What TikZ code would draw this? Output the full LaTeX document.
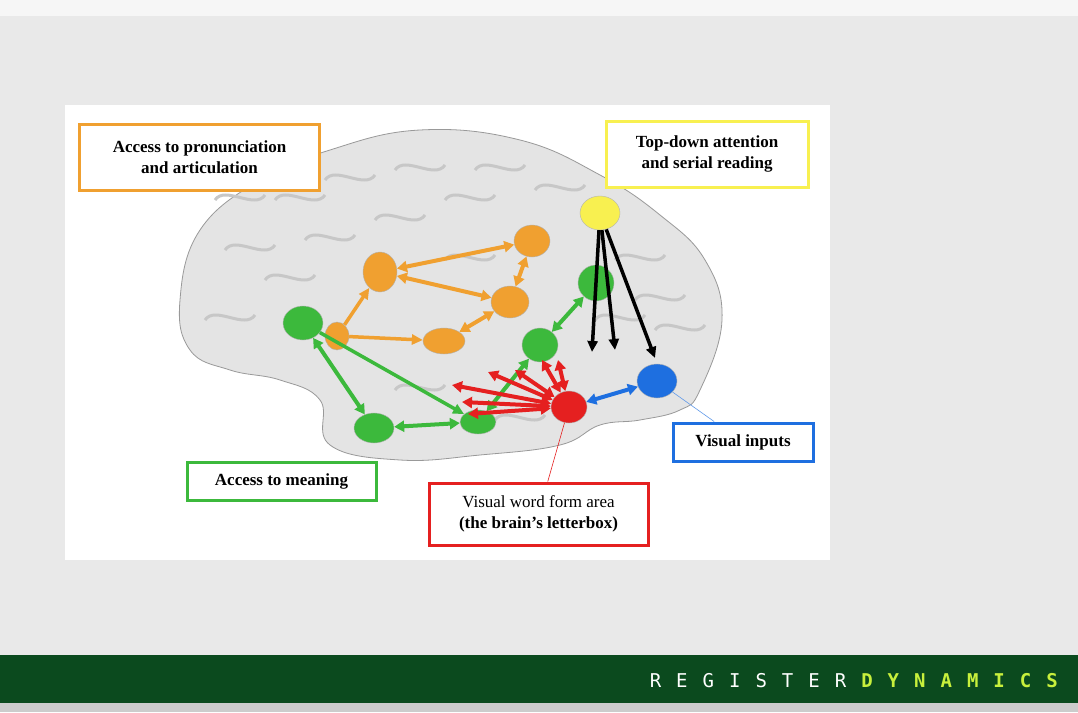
\documentclass[tikz,border=0pt]{standalone}
\usepackage{fontspec}
\setmainfont{Liberation Serif}
\newfontfamily\mono{DejaVu Sans Mono}
\usetikzlibrary{arrows.meta,shapes.geometric}
\definecolor{bg}{HTML}{E9E9E9}
\definecolor{foot}{HTML}{0B4A1E}
\definecolor{lime}{HTML}{C8F03C}
\definecolor{org}{HTML}{F0A030}
\definecolor{grn}{HTML}{3CB93C}
\definecolor{redc}{HTML}{E52020}
\definecolor{blu}{HTML}{1E6FE0}
\definecolor{yel}{HTML}{F8F050}
\definecolor{brain}{HTML}{E4E4E4}
\tikzset{
 lab/.style={draw,line width=3pt,fill=white,align=center,font=\bfseries\fontsize{17}{21}\selectfont,inner sep=5pt},
 blob/.style={ellipse,draw=black!30,line width=0.4pt,inner sep=0pt},
 da/.style={line width=4pt,{Triangle[length=10pt,width=11pt]}-{Triangle[length=10pt,width=11pt]}},
 sa/.style={line width=3.5pt,-{Triangle[length=11pt,width=10pt]}}
}
\begin{document}
\begin{tikzpicture}[x=1pt,y=-1pt]
\useasboundingbox (0,0) rectangle (1078,712);
\fill[bg] (0,0) rectangle (1078,712);
\fill[white!60!bg] (0,0) rectangle (1078,16);
\fill[white] (65,105) rectangle (830,560);
% brain
\draw[black!40,fill=brain,line width=0.8pt] plot[smooth cycle,tension=0.7] coordinates
 {(180,300) (200,230) (260,180) (330,150) (420,130) (520,140) (600,175) (660,215) (705,260) (722,320) (700,390) (680,410) (640,420) (600,425) (560,445) (480,455) (400,460) (330,445) (320,400) (280,380) (230,370) (190,350)};
\foreach \p in {(250,250),(300,200),(350,180),(420,170),(470,200),(560,190),(640,260),(680,330),(230,320),(290,280),(420,390),(520,420),(620,320),(470,260),(400,220),(330,240),(660,300),(240,200),(500,170)}
 \draw[black!22,line width=3pt] \p ++(-25,0) .. controls +(10,-15) and +(-10,15) .. ++(50,-5);
% nodes
\node[blob,fill=yel,minimum width=40,minimum height=34] (y) at (600,213) {};
\node[blob,fill=org,minimum width=36,minimum height=32] (o1) at (532,241) {};
\node[blob,fill=org,minimum width=34,minimum height=40] (o2) at (380,272) {};
\node[blob,fill=org,minimum width=38,minimum height=32] (o3) at (510,302) {};
\node[blob,fill=org,minimum width=24,minimum height=28] (o4) at (337,336) {};
\node[blob,fill=org,minimum width=42,minimum height=26] (o5) at (444,341) {};
\node[blob,fill=grn,minimum width=40,minimum height=34] (g1) at (303,323) {};
\node[blob,fill=grn,minimum width=36,minimum height=36] (g2) at (596,283) {};
\node[blob,fill=grn,minimum width=36,minimum height=34] (g3) at (540,345) {};
\node[blob,fill=grn,minimum width=40,minimum height=30] (g4) at (374,428) {};
\node[blob,fill=grn,minimum width=36,minimum height=24] (g5) at (478,422) {};
\node[blob,fill=redc,minimum width=36,minimum height=32] (rr) at (569,407) {};
\node[blob,fill=blu,minimum width=40,minimum height=34] (bb) at (657,381) {};
% orange arrows
\draw[da,org] (o2) -- (o1);
\draw[da,org] (o2) -- (o3);
\draw[da,org] (o3) -- (o1);
\draw[sa,org] (o4) -- (o2);
\draw[sa,org] (o4) -- (o5);
\draw[da,org] (o5) -- (o3);
% green arrows
\draw[da,grn] (g1) -- (g4);
\draw[sa,grn] (g1) -- (g5);
\draw[da,grn] (g4) -- (g5);
\draw[da,grn] (g5) -- (g3);
\draw[da,grn] (g3) -- (g2);
% black arrows
\coordinate (k1) at (592,352); \coordinate (k2) at (615,350); \coordinate (k3) at (655,358);
\draw[sa,black] (y) -- (k1);
\draw[sa,black] (y) -- (k2);
\draw[sa,black] (y) -- (k3);
% red arrows
\foreach \n/\qx/\qy in {ra/452/385,rb/462/402,rc/468/414,rd/488/372,re/515/370,rf/542/360,rg/558/360}{
 \coordinate (\n) at (\qx,\qy);
 \draw[da,redc] (rr) -- (\n);}
\draw[da,blu] (rr) -- (bb);
% labels
\node[lab,draw=org,minimum width=240,minimum height=66] (lo) at (199.5,157) {Access to pronunciation\\and articulation};
\node[lab,draw=yel,minimum width=202,minimum height=66] (ly) at (707,154) {Top-down attention\\and serial reading};
\node[lab,draw=blu,minimum width=140,minimum height=38] (lb) at (743,442) {Visual inputs};
\node[lab,draw=grn,minimum width=189,minimum height=38] (lg) at (281.5,481) {Access to meaning};
\node[lab,draw=redc,minimum width=219,minimum height=62] (lr) at (538.5,514) {{\mdseries Visual word form area}\\(the brain’s letterbox)};
\draw[redc,line width=0.6pt] (rr) -- (lr);
\draw[blu!70,line width=0.6pt] (bb) -- (lb);
% footer
\fill[foot] (0,655) rectangle (1078,703);
\fill[black!20] (0,703) rectangle (1078,712);
\node[anchor=east,font=\mono\fontsize{19}{19}\selectfont,inner sep=0] (ft) at (1058,681)
 {\textcolor{white}{R\hspace{15pt}E\hspace{15pt}G\hspace{15pt}I\hspace{15pt}S\hspace{15pt}T\hspace{15pt}E\hspace{15pt}R\hspace{15pt}}\textcolor{lime}{\bfseries D\hspace{15pt}Y\hspace{15pt}N\hspace{15pt}A\hspace{15pt}M\hspace{15pt}I\hspace{15pt}C\hspace{15pt}S}};
\end{tikzpicture}
\end{document}
